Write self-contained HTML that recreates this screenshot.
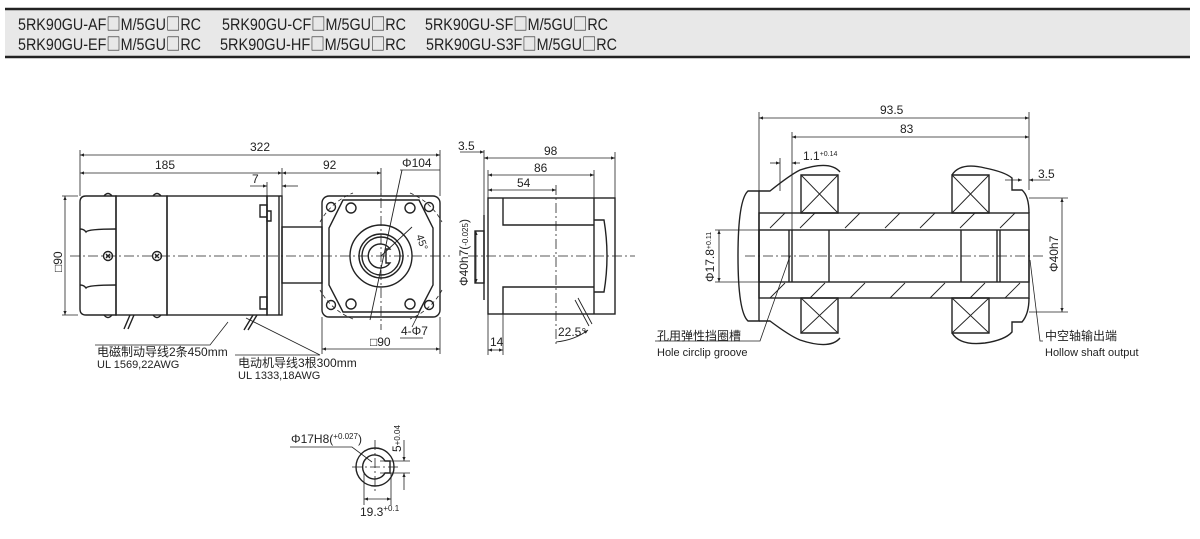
<!DOCTYPE html>
<html><head><meta charset="utf-8"><style>
html,body{margin:0;padding:0;background:#fff;width:1200px;height:539px;overflow:hidden}
svg{display:block}
text{font-family:"Liberation Sans","Noto Sans CJK SC",sans-serif;fill:#222}
</style></head><body>
<svg width="1200" height="539" viewBox="0 0 1200 539" xmlns="http://www.w3.org/2000/svg">
<defs>
<marker id="a" viewBox="0 0 10 10" refX="10" refY="5" markerWidth="7" markerHeight="5" orient="auto-start-reverse"><path d="M0,1L10,5L0,9z" fill="#222"/></marker>
</defs>
<!-- header -->
<rect x="5" y="9" width="1185" height="47" fill="#e8e8e8"/>
<line x1="5" y1="9" x2="1190" y2="9" stroke="#222" stroke-width="2.5"/>
<line x1="5" y1="57" x2="1190" y2="57" stroke="#222" stroke-width="2.5"/>
<g font-size="17">
<text x="18" y="30" textLength="183" lengthAdjust="spacingAndGlyphs">5RK90GU-AF<tspan font-family="Noto Sans CJK SC">□</tspan>M/5GU<tspan font-family="Noto Sans CJK SC">□</tspan>RC</text>
<text x="18" y="50" textLength="183" lengthAdjust="spacingAndGlyphs">5RK90GU-EF<tspan font-family="Noto Sans CJK SC">□</tspan>M/5GU<tspan font-family="Noto Sans CJK SC">□</tspan>RC</text>
<text x="222" y="30" textLength="184" lengthAdjust="spacingAndGlyphs">5RK90GU-CF<tspan font-family="Noto Sans CJK SC">□</tspan>M/5GU<tspan font-family="Noto Sans CJK SC">□</tspan>RC</text>
<text x="220" y="50" textLength="186" lengthAdjust="spacingAndGlyphs">5RK90GU-HF<tspan font-family="Noto Sans CJK SC">□</tspan>M/5GU<tspan font-family="Noto Sans CJK SC">□</tspan>RC</text>
<text x="425" y="30" textLength="183" lengthAdjust="spacingAndGlyphs">5RK90GU-SF<tspan font-family="Noto Sans CJK SC">□</tspan>M/5GU<tspan font-family="Noto Sans CJK SC">□</tspan>RC</text>
<text x="426" y="50" textLength="191" lengthAdjust="spacingAndGlyphs">5RK90GU-S3F<tspan font-family="Noto Sans CJK SC">□</tspan>M/5GU<tspan font-family="Noto Sans CJK SC">□</tspan>RC</text>
</g>

<g fill="none" stroke="#222" stroke-width="1.4">
<path d="M86,196 H116 V315 H86 Q80,315 80,309 V202 Q80,196 86,196Z"/>
<path d="M80,229 Q84,229 86,232 Q88,229 116,229 M80,285 Q84,285 86,288 Q88,285 116,285"/>
<rect x="116" y="196" width="51" height="119"/>
<rect x="167" y="196" width="100" height="119"/>
<rect x="267" y="196" width="15" height="119"/>
<line x1="279" y1="196" x2="279" y2="315"/>
<rect x="282" y="227" width="40" height="56"/>
<path d="M104,196 q4,-5 8,0 M153,196 q4,-5 8,0 M104,315 q4,5 8,0 M153,315 q4,5 8,0"/>
<circle cx="108" cy="256" r="4.5"/><circle cx="157" cy="256" r="4.5"/>
<path d="M106,254l4,4M110,254l-4,4M155,254l4,4M159,254l-4,4"/>
<path d="M260,205h7v12h-7zM267,211h4v10h-4zM260,297h7v12h-7z"/>
<path d="M130,315 l-6,14 M134,315 l-6,14 M253,315 l-9,15 M257,315 l-9,15"/>
<rect x="322" y="196" width="118" height="121" rx="7"/>
<path d="M343,200 H419 L433,228 V285 L419,312 H343 L329,285 V228Z"/>
<circle cx="381" cy="256" r="31"/><circle cx="381" cy="256" r="22"/><circle cx="381" cy="256" r="19"/>
<path d="M390,249 A12,12 0 1 0 390,263 H386 V249Z"/>
<circle cx="331" cy="207" r="4.5"/><circle cx="429" cy="207" r="4.5"/><circle cx="331" cy="305" r="4.5"/><circle cx="429" cy="305" r="4.5"/>
<circle cx="351" cy="208" r="5"/><circle cx="410" cy="208" r="5"/><circle cx="351" cy="304" r="5"/><circle cx="410" cy="304" r="5"/>
<path d="M320,222 A64,64 0 0 1 353,193 M410,193 A64,64 0 0 1 442,222 M442,290 A64,64 0 0 1 410,319 M353,319 A64,64 0 0 1 320,290" stroke-dasharray="4,3" stroke-width="0.8"/>
<line x1="370" y1="320" x2="402" y2="170" stroke-width="0.9"/>
<line x1="381" y1="256" x2="412" y2="227" stroke-width="0.9"/>

<rect x="488" y="198" width="127" height="116"/>
<path d="M503,198 V225 H594 M503,314 V287 H594 M594,198 V314"/>
<path d="M594,220 H604 Q610,256 604,292 H594"/>
<rect x="475" y="231" width="9" height="52"/><line x1="484" y1="215" x2="484" y2="300"/>
<path d="M575,300 l14,26 M578,298 l14,26" stroke-width="0.9"/>

<path d="M759,191 H748 Q738,200 738,256 Q738,312 748,321 H759 Z"/>
<path d="M759,191 H770 Q790,175 800,170 Q830,160 840,172 M838,175 H801 V213 H838Z"/>
<path d="M759,321 H770 Q790,336 800,340 Q830,350 840,338 M838,333 H801 V298 H838Z"/>
<path d="M952,175 H989 V213 H952Z M952,175 Q960,162 985,168 Q1005,172 1012,178 V190 H1022 Q1029,196 1029,213"/>
<path d="M952,333 H989 V298 H952Z M952,333 Q960,346 985,343 Q1005,340 1012,332 V322 H1022 Q1029,314 1029,298"/>
<rect x="759" y="213" width="270" height="85"/>
<rect x="759" y="230" width="270" height="52"/>
<path d="M789,230V282M792,230V282M829,230V282M961,230V282M997,230V282M1000,230V282"/>
<path d="M770,228l15,-15M800,228l15,-15M845,228l15,-15M885,228l15,-15M920,228l15,-15M960,228l15,-15M1000,228l15,-15M770,298l15,-15M810,298l15,-15M850,298l15,-15M890,298l15,-15M930,298l15,-15M970,298l15,-15M1005,298l15,-15" stroke-width="0.9"/>
<path d="M801,175L838,213M838,175L801,213M952,175L989,213M989,175L952,213M801,298L838,333M838,298L801,333M952,298L989,333M989,298L952,333" stroke-width="0.9"/>

<circle cx="375" cy="467" r="19"/>
<path d="M385,461 A12,12 0 1 0 385,473 H390 V461Z"/>
</g>

<g stroke="#222" stroke-width="0.8" stroke-dasharray="10,3,2,3" fill="none">
<line x1="70" y1="256" x2="450" y2="256"/><line x1="381" y1="180" x2="381" y2="330"/>
<line x1="468" y1="256" x2="635" y2="256"/><line x1="556" y1="185" x2="556" y2="345"/>
<line x1="745" y1="256" x2="1045" y2="256"/>
<line x1="352" y1="467" x2="400" y2="467"/><line x1="375" y1="440" x2="375" y2="492"/>
</g>

<g stroke="#222" stroke-width="0.8" fill="none">
<path d="M80,196V150M440,196V150M282,196V168M267,196V182M381,196V168M62,196H78M62,315H78M322,317V354M440,317V354"/>
<line x1="80" y1="155" x2="440" y2="155" marker-start="url(#a)" marker-end="url(#a)"/>
<line x1="80" y1="173" x2="282" y2="173" marker-start="url(#a)" marker-end="url(#a)"/>
<line x1="282" y1="173" x2="381" y2="173" marker-start="url(#a)" marker-end="url(#a)"/>
<line x1="250" y1="186" x2="267" y2="186" marker-end="url(#a)"/><line x1="298" y1="186" x2="282" y2="186" marker-end="url(#a)"/>
<line x1="65" y1="196" x2="65" y2="315" marker-start="url(#a)" marker-end="url(#a)"/>
<line x1="322" y1="349" x2="440" y2="349" marker-start="url(#a)" marker-end="url(#a)"/>
<path d="M400,170H440M412,327l10,-20M423,338H400"/>
<path d="M484,215V150M615,198V152M488,198V170M594,220V170M488,314V355M503,314V355"/>
<line x1="484" y1="158" x2="615" y2="158" marker-start="url(#a)" marker-end="url(#a)"/>
<line x1="488" y1="175" x2="594" y2="175" marker-start="url(#a)" marker-end="url(#a)"/>
<line x1="488" y1="190" x2="556" y2="190" marker-start="url(#a)" marker-end="url(#a)"/>
<line x1="460" y1="152" x2="484" y2="152" marker-end="url(#a)"/>
<line x1="488" y1="350" x2="503" y2="350" marker-start="url(#a)" marker-end="url(#a)"/>
<line x1="476" y1="231" x2="476" y2="283" marker-start="url(#a)" marker-end="url(#a)"/>
<path d="M556,342 Q575,340 588,330" marker-end="url(#a)"/>
<path d="M759,191V112M1029,190V112M792,230V132M780,191V158"/>
<line x1="759" y1="118" x2="1029" y2="118" marker-start="url(#a)" marker-end="url(#a)"/>
<line x1="792" y1="137" x2="1029" y2="137" marker-start="url(#a)" marker-end="url(#a)"/>
<line x1="770" y1="163" x2="780" y2="163" marker-end="url(#a)"/><line x1="800" y1="163" x2="792" y2="163" marker-end="url(#a)"/>
<line x1="1005" y1="180" x2="1022" y2="180" marker-end="url(#a)"/><line x1="1050" y1="180" x2="1029" y2="180" marker-end="url(#a)"/>
<path d="M1029,198H1068M1029,312H1068M715,230H759M715,282H759"/>
<line x1="1062" y1="198" x2="1062" y2="312" marker-start="url(#a)" marker-end="url(#a)"/>
<line x1="719" y1="230" x2="719" y2="282" marker-start="url(#a)" marker-end="url(#a)"/>
<path d="M655,341H760L790,256M1043,341H1040L1030,260"/>
<path d="M95,345H210L228,322M235,355H320L246,318"/>
<path d="M290,447H352L372,462M364,473V505M391,473V505M380,461H410M380,473H410"/>
<line x1="364" y1="499" x2="391" y2="499" marker-start="url(#a)" marker-end="url(#a)"/>
<line x1="404" y1="440" x2="404" y2="461" marker-end="url(#a)"/><line x1="404" y1="490" x2="404" y2="473" marker-end="url(#a)"/>
</g>

<g font-size="12">
<text x="250" y="151">322</text><text x="155" y="169">185</text><text x="323" y="169">92</text><text x="252" y="183">7</text>
<text x="402" y="167">Φ104</text>
<text x="370" y="346">□90</text><text x="401" y="335">4-Φ7</text>
<text x="416" y="236" font-size="10.5" transform="rotate(70 416 236)">45°</text>
<text transform="translate(62 272) rotate(-90)">□90</text>
<text x="458" y="150">3.5</text><text x="544" y="155">98</text><text x="534" y="172">86</text><text x="517" y="187">54</text>
<text x="490" y="346">14</text><text x="558" y="336">22.5°</text>
<text transform="translate(468 286) rotate(-90)">Φ40h7(<tspan font-size="8">-0.025</tspan>)</text>
<text x="97" y="356">电磁制动导线2条450mm</text><text x="97" y="368" font-size="11">UL 1569,22AWG</text>
<text x="238" y="367">电动机导线3根300mm</text><text x="238" y="379" font-size="11">UL 1333,18AWG</text>
<text x="880" y="114">93.5</text><text x="900" y="133">83</text>
<text x="803" y="160">1.1<tspan font-size="7" dy="-4">+0.14</tspan></text>
<text x="1038" y="178">3.5</text>
<text transform="translate(1058 272) rotate(-90)">Φ40h7</text>
<text transform="translate(714 282) rotate(-90)">Φ17.8<tspan font-size="7" dy="-3">+0.11</tspan></text>
<text x="657" y="340">孔用弹性挡圈槽</text><text x="657" y="356" font-size="11">Hole circlip groove</text>
<text x="1045" y="340">中空轴输出端</text><text x="1045" y="356" font-size="11">Hollow shaft output</text>
<text x="291" y="443">Φ17H8(<tspan font-size="8" dy="-4">+0.027</tspan><tspan dy="4">)</tspan></text>
<text x="360" y="516">19.3<tspan font-size="8" dy="-5">+0.1</tspan></text>
<text transform="translate(401 452) rotate(-90)">5<tspan font-size="8" dy="-1">+0.04</tspan></text>
</g>
</svg>
</body></html>
